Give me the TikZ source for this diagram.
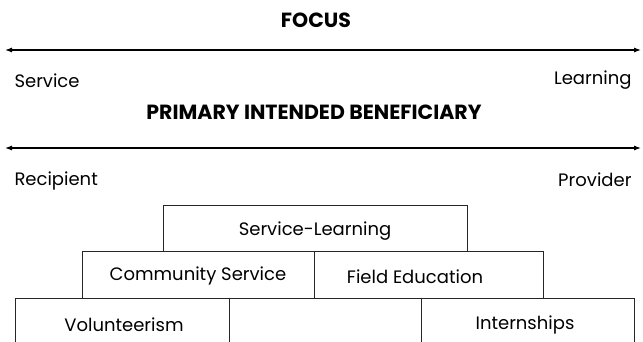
\documentclass[tikz,border=0pt]{standalone}
\usepackage{fontspec}
\setmainfont{Poppins}
\usetikzlibrary{positioning,arrows.meta}

\begin{document}
\begin{tikzpicture}[x=1pt,y=-1pt,>={Latex[length=7pt,width=5pt]},
  scalebar/.style={<->,line width=1.1pt},
  heading/.style={font=\bfseries\fontsize{20.5}{24}\selectfont},
  endlabel/.style={font=\fontsize{18}{21}\selectfont},
  tier/.style={draw=black!85,line width=0.8pt,inner sep=0pt,anchor=north west},
  tierlabel/.style={font=\fontsize{18}{21}\selectfont}]
  \useasboundingbox (0,0) rectangle (643,342);
  \clip (0,0) rectangle (643,342);
  % the two scales
  \node[heading] (focus) at (316,20) {FOCUS};
  \coordinate (f-l) at (5,50); \coordinate (f-r) at (641,50);
  \draw[scalebar] (f-l) -- (f-r);
  \node[endlabel,anchor=west] (service) at (11,81) {Service};
  \node[endlabel,anchor=east] (learning) at (635,80) {Learning};
  \node[heading] (benef) at (314,112) {PRIMARY INTENDED BENEFICIARY};
  \coordinate (b-l) at (5,148); \coordinate (b-r) at (641,148);
  \draw[scalebar] (b-l) -- (b-r);
  \node[endlabel,anchor=west] (recipient) at (11,181) {Recipient};
  \node[endlabel,anchor=east] (provider) at (635,180) {Provider};
  % stacked boxes
  \node[tier,minimum width=304pt,minimum height=46pt] (sl) at (163,205) {};
  \node[tier,minimum width=232pt,minimum height=47pt] (cs) at (82,251) {};
  \node[tier,minimum width=229pt,minimum height=47pt] (fe) at (314,251) {};
  \node[tier,minimum width=214pt,minimum height=60pt] (vol) at (15,298) {};
  \node[tier,minimum width=192pt,minimum height=60pt] (gap) at (229,298) {};
  \node[tier,minimum width=213pt,minimum height=60pt] (intern) at (421,298) {};
  \node[tierlabel] (sl-t) at (315,231) {Service-Learning};
  \node[tierlabel] (cs-t) at (198,276) {Community Service};
  \node[tierlabel] (fe-t) at (415,277) {Field Education};
  \node[tierlabel] (vol-t) at (124,325) {Volunteerism};
  \node[tierlabel] (intern-t) at (525,325) {Internships};
\end{tikzpicture}
\end{document}
